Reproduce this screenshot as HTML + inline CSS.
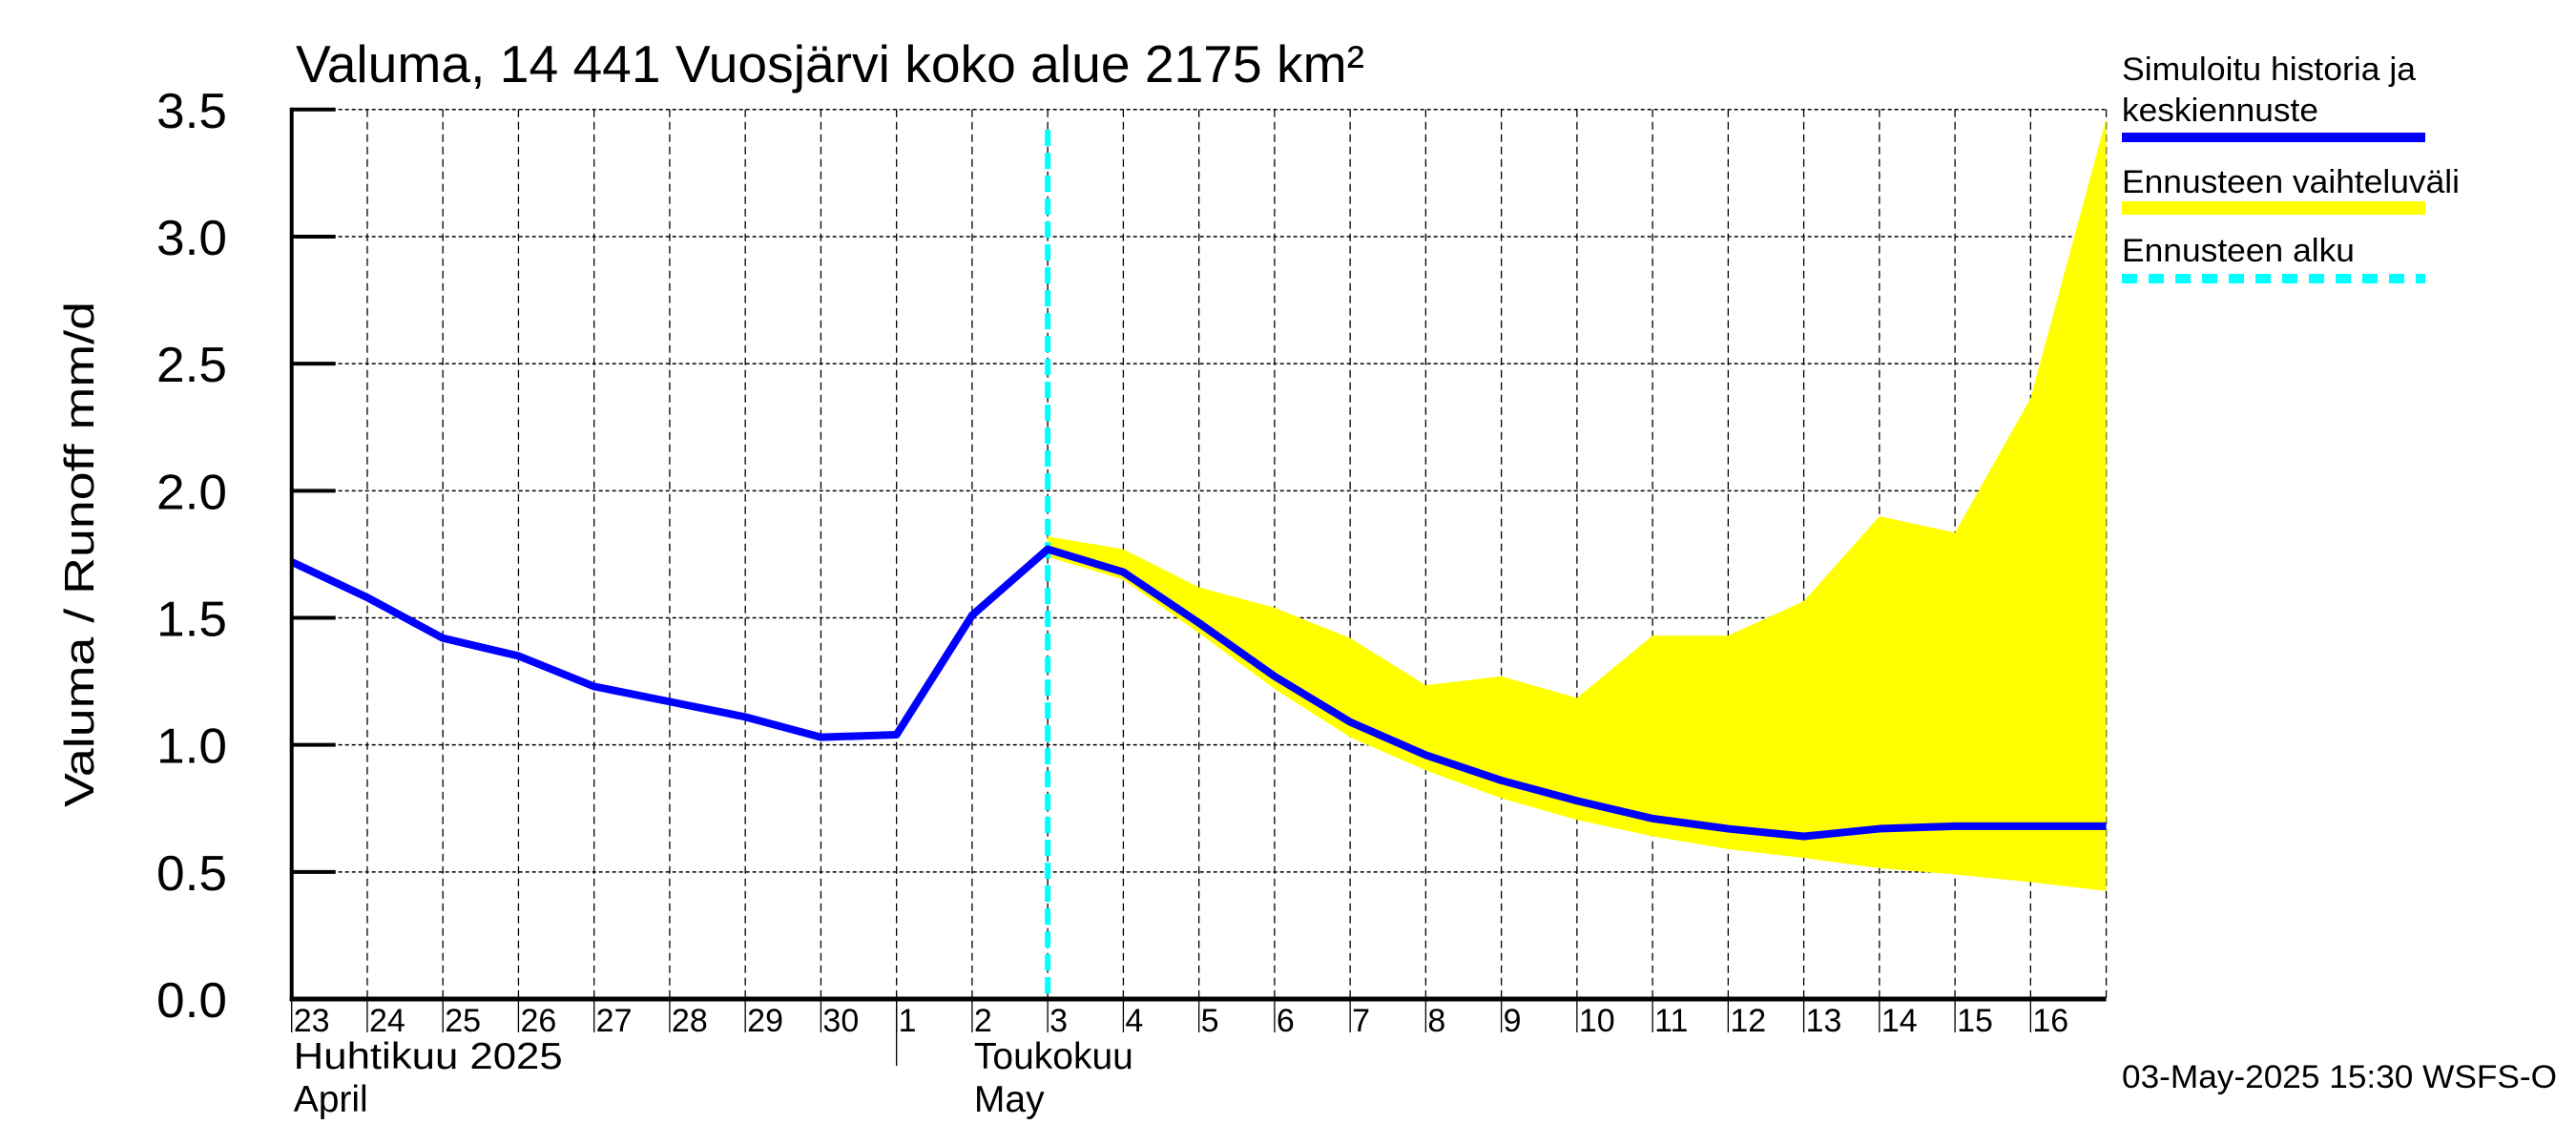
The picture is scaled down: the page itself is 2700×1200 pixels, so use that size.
<!DOCTYPE html>
<html><head><meta charset="utf-8"><style>
html,body{margin:0;padding:0;background:#fff;}
svg{display:block;font-family:"Liberation Sans",sans-serif;}
</style></head><body>
<svg id="chart" width="2700" height="1200" viewBox="0 0 2700 1200">
<rect width="2700" height="1200" fill="#fff"/>
<g id="grid"></g>
<g id="band"></g>
<g id="series"></g>
<g id="axes"></g>
<text x="310" y="86" font-size="55" textLength="1120" lengthAdjust="spacingAndGlyphs">Valuma, 14 441 Vuosjärvi koko alue 2175 km²</text>
<text transform="translate(98,846) rotate(-90)" font-size="44" textLength="530" lengthAdjust="spacingAndGlyphs">Valuma / Runoff     mm/d</text>
<g>
<text x="2224" y="84" font-size="34" textLength="308" lengthAdjust="spacingAndGlyphs">Simuloitu historia ja</text>
<text x="2224" y="127" font-size="34" textLength="206" lengthAdjust="spacingAndGlyphs">keskiennuste</text>
<rect x="2224" y="139" width="318" height="10" fill="#0000ff"/>
<text x="2224" y="202" font-size="34" textLength="354" lengthAdjust="spacingAndGlyphs">Ennusteen vaihteluväli</text>
<rect x="2224" y="211" width="318" height="14" fill="#ffff00"/>
<text x="2224" y="274" font-size="34" textLength="244" lengthAdjust="spacingAndGlyphs">Ennusteen alku</text>
<line x1="2224" y1="292" x2="2542" y2="292" stroke="#00ffff" stroke-width="10" stroke-dasharray="16 12"/>
</g>
<text x="2224" y="1140" font-size="34" textLength="456" lengthAdjust="spacingAndGlyphs">03-May-2025 15:30 WSFS-O</text>
</svg>
<script>
const dayLabels = ["23","24","25","26","27","28","29","30","1","2","3","4","5","6","7","8","9","10","11","12","13","14","15","16"];
const simulated = [1.72,1.58,1.42,1.35,1.23,1.17,1.11,1.03,1.04,1.51,1.77,1.68,1.48,1.27,1.09,0.96,0.86,0.78,0.71,0.67,0.64,0.67,0.68,0.68,0.68];
const rangeStart = 10;
const rangeUpper = [1.82,1.77,1.62,1.54,1.42,1.235,1.27,1.185,1.43,1.43,1.565,1.90,1.835,2.365,3.465];
const rangeLower = [1.74,1.65,1.44,1.22,1.03,0.90,0.79,0.705,0.64,0.59,0.555,0.515,0.49,0.46,0.425];
const yTicks = [0,0.5,1,1.5,2,2.5,3,3.5];
const forecastDay = 10;

const X0=305.7, X1=2207.6, Y0=1047, Y1=114.8, NDAYS=24, YMAX=3.5;
const NS="http://www.w3.org/2000/svg";
function xs(d){return X0+(X1-X0)*d/NDAYS;}
function ys(v){return Y0-(Y0-Y1)*v/YMAX;}
function mk(tag,attrs,parent){const e=document.createElementNS(NS,tag);for(const k in attrs)e.setAttribute(k,attrs[k]);parent.appendChild(e);return e;}
const grid=document.getElementById('grid'), axes=document.getElementById('axes'), band=document.getElementById('band'), series=document.getElementById('series');

yTicks.forEach((t,i)=>{
  const y=ys(t);
  if(t>0){const l=mk('line',{x1:X0,y1:y,x2:X1,y2:y,stroke:'#000','stroke-width':1.5,'stroke-dasharray':'4 3'},grid);
  
  }
  const tk=mk('line',{x1:X0,y1:y,x2:X0+46,y2:y,stroke:'#000','stroke-width':4},axes);
  
  
  const tx=mk('text',{x:238,y:y+19,'font-size':52,'text-anchor':'end',textLength:74,lengthAdjust:'spacingAndGlyphs'},axes);
  tx.textContent=t.toFixed(1);
  
  
});
for(let d=1;d<=NDAYS;d++){
  const x=xs(d);
  const l=mk('line',{x1:x,y1:Y1,x2:x,y2:Y0,stroke:'#000','stroke-width':1.3,'stroke-dasharray':'8 5'},grid);
  
  
}
dayLabels.forEach((s,d)=>{
  const x=xs(d);
  const tk=mk('line',{x1:x,y1:Y0,x2:x,y2:1082,stroke:'#000','stroke-width':1.3},axes);
  
  
  const tx=mk('text',{x:x+2,y:1081,'font-size':34},axes);
  tx.textContent=s;
  
  
});
// band
let pts=[];
rangeUpper.forEach((v,i)=>pts.push(xs(rangeStart+i)+','+ys(v)));
for(let i=rangeLower.length-1;i>=0;i--)pts.push(xs(rangeStart+i)+','+ys(rangeLower[i]));
const poly=mk('polygon',{points:pts.join(' '),fill:'#ffff00'},band);


// forecast start
const fl=mk('line',{x1:xs(forecastDay),y1:ys(3.42),x2:xs(forecastDay),y2:Y0,stroke:'#00ffff','stroke-width':6,'stroke-dasharray':'17 7'},series);


// simulated line
const sl=mk('polyline',{points:simulated.map((v,i)=>xs(i)+','+ys(v)).join(' '),fill:'none',stroke:'#0000ff','stroke-width':8,'stroke-linejoin':'round'},series);


// axes
const ya=mk('line',{x1:X0,y1:Y1-2,x2:X0,y2:Y0+2,stroke:'#000','stroke-width':4},axes);


const xa=mk('line',{x1:X0-2,y1:Y0,x2:X1,y2:Y0,stroke:'#000','stroke-width':5},axes);


const ms=mk('line',{x1:xs(8),y1:Y0,x2:xs(8),y2:1117,stroke:'#000','stroke-width':1.3},axes);


const months=[["Huhtikuu  2025",xs(0)+2,1120,282],["April",xs(0)+2,1165,0],["Toukokuu",xs(9)+2,1120,0],["May",xs(9)+2,1165,0]];
months.forEach(m=>{
  const a={x:m[1],y:m[2],'font-size':39,'xml:space':'preserve'};
  if(m[3]){a.textLength=m[3];a.lengthAdjust='spacingAndGlyphs';}
  const t=mk('text',a,axes);
  t.textContent=m[0];
  
  
});
</script>
</body></html>
